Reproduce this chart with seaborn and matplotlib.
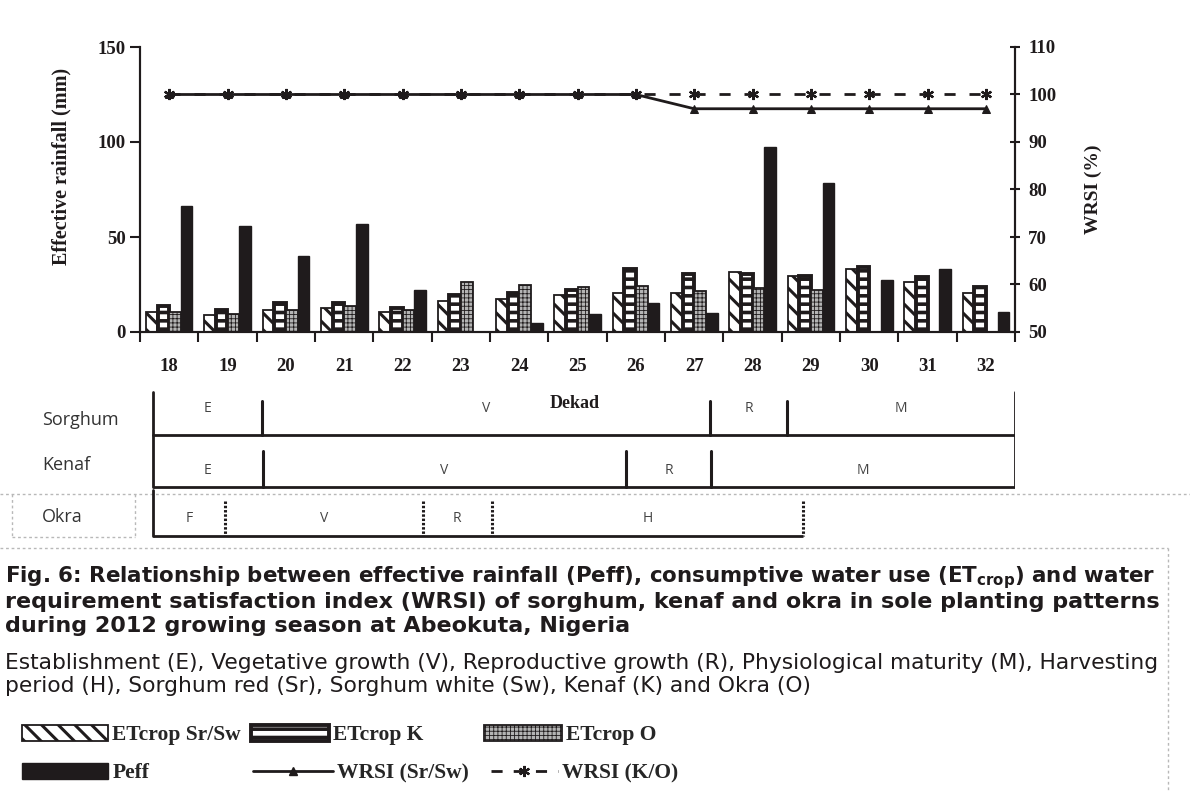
import numpy as np
import pandas as pd
import matplotlib
matplotlib.use("Agg")
import matplotlib.pyplot as plt
from matplotlib.lines import Line2D
from matplotlib.patches import Patch
import seaborn as sns

# ---- data -------------------------------------------------------------
dekads = ["18", "19", "20", "21", "22", "23", "24", "25",
          "26", "27", "28", "29", "30", "31", "32"]
et_sr_sw = [10.5, 9.1, 11.8, 12.8, 10.4, 16.2, 17.4, 19.5,
            20.4, 20.4, 31.8, 29.7, 33.3, 26.5, 20.4]
et_k = [13.9, 11.8, 15.1, 15.1, 12.8, 19.3, 20.5, 21.9,
        33.2, 30.6, 30.4, 29.5, 34.2, 28.9, 23.9]
et_o = [10.5, 9.3, 11.8, 13.9, 11.8, 26.3, 24.9, 23.9,
        24.1, 21.6, 23.2, 21.9, np.nan, np.nan, np.nan]
peff = [66.2, 55.8, 39.8, 57.0, 21.9, 0.0, 4.7, 9.5,
        15.1, 9.8, 97.4, 78.3, 27.5, 33.0, 10.5]
wrsi_sr_sw = [100, 100, 100, 100, 100, 100, 100, 100,
              100, 97, 97, 97, 97, 97, 97]
wrsi_k_o = [100, 100, 100, 100, 100, 100, 100, 100,
            100, 100, 100, 100, 100, 100, 100]

series_names = ["ETcrop Sr/Sw", "ETcrop K", "ETcrop O", "Peff"]

# crop growth stages (boundaries in dekads)
sorghum_stages = ["E", "V", "R", "M"]
sorghum_bounds = [17.72, 19.59, 27.27, 28.59, 32.5]
kenaf_stages = ["E", "V", "R", "M"]
kenaf_bounds = [17.72, 19.61, 25.83, 27.29, 32.5]
okra_stages = ["F", "V", "R", "H"]
okra_bounds = [17.72, 18.96, 22.35, 23.53, 28.87]

caption_title = [
    "Fig. 6: Relationship between effective rainfall (Peff), consumptive water use (ET$_{\\mathregular{crop}}$) and water",
    "requirement satisfaction index (WRSI) of sorghum, kenaf and okra in sole planting patterns",
    "during 2012 growing season at Abeokuta, Nigeria",
]
caption_note = [
    "Establishment (E), Vegetative growth (V), Reproductive growth (R), Physiological maturity (M), Harvesting",
    "period (H), Sorghum red (Sr), Sorghum white (Sw), Kenaf (K) and Okra (O)",
]

# ---- style ------------------------------------------------------------
INK = "#1f1b1c"
sns.set_theme(style="white")
plt.rcParams["font.family"] = ["Liberation Serif", "DejaVu Serif"]
plt.rcParams["hatch.linewidth"] = 2.2

W, H = 1190, 792
fig = plt.figure(figsize=(W / 100, H / 100), dpi=100)
fig.patch.set_facecolor("white")


def fx(px):
    return px / W


def fy(py):
    return 1 - py / H


bar_styles = {
    "ETcrop Sr/Sw": dict(facecolor="white", hatch="\\\\", hlw=2.2, lw=1.3),
    "ETcrop K": dict(facecolor="white", hatch="--", hlw=2.6, lw=2.8),
    "ETcrop O": dict(facecolor="#b4b4b4", hatch="++++", hlw=0.6, lw=1.3),
    "Peff": dict(facecolor=INK, hatch=None, hlw=1.0, lw=1.0),
}


def style_patch(p, st):
    p.set_facecolor(st["facecolor"])
    p.set_edgecolor(INK)
    p.set_linewidth(st["lw"])
    if st["hatch"]:
        p.set_hatch(st["hatch"])
        if hasattr(p, "set_hatch_linewidth"):
            p.set_hatch_linewidth(st["hlw"])


# ---- main chart -------------------------------------------------------
ax = fig.add_axes([fx(140), fy(332), fx(1015) - fx(140), fy(47) - fy(332)])

records = []
for name, vals in zip(series_names, [et_sr_sw, et_k, et_o, peff]):
    for d, v in zip(dekads, vals):
        records.append({"Dekad": d, "Series": name, "Value": v})
df = pd.DataFrame(records).dropna()

sns.barplot(data=df, x="Dekad", y="Value", hue="Series", order=dekads,
            hue_order=series_names, errorbar=None, width=0.8, dodge=True,
            saturation=1, palette=["white", "white", "#b4b4b4", INK],
            legend=False, ax=ax)
for name, cont in zip(series_names, ax.containers):
    for p in cont.patches:
        style_patch(p, bar_styles[name])

ax2 = ax.twinx()
positions = np.arange(len(dekads))
sns.lineplot(x=positions, y=wrsi_k_o, ax=ax2, color=INK, lw=2.0,
             linestyle=(0, (4, 5)), marker=(6, 2, 0), markersize=8,
             markeredgewidth=1.6, markeredgecolor=INK)
sns.lineplot(x=positions, y=wrsi_sr_sw, ax=ax2, color=INK, lw=2.0,
             marker="^", markersize=6, markeredgecolor=INK, markerfacecolor=INK)

ax.set_xlim(-0.5, len(dekads) - 0.5)
ax.set_ylim(0, 150)
ax2.set_ylim(50, 110)
ax.set_xlabel("")
ax.set_ylabel("")
ax2.set_ylabel("")

ax.set_yticks([0, 50, 100, 150])
ax2.set_yticks(np.arange(50, 111, 10))
ax.set_xticks(positions)
ax.set_xticklabels(dekads)
ax.set_xticks(np.arange(-0.5, len(dekads), 1.0), minor=True)

tick_font = dict(family="Liberation Serif", weight="bold", size=13.5)
for lab in ax.get_xticklabels() + ax.get_yticklabels() + ax2.get_yticklabels():
    lab.set_fontproperties(tick_font)
    lab.set_color(INK)

ax.tick_params(axis="x", which="major", bottom=False, length=0, pad=19)
ax.tick_params(axis="x", which="minor", bottom=True, length=7, width=1.5,
               direction="out", color=INK)
ax.tick_params(axis="y", left=True, length=7, width=1.5, direction="out",
               pad=3, color=INK)
ax2.tick_params(axis="y", right=True, length=7, width=1.5, direction="inout",
                pad=6, color=INK)

for a in (ax, ax2):
    a.spines["top"].set_visible(False)
    for s in ("left", "right", "bottom"):
        a.spines[s].set_linewidth(1.5)
        a.spines[s].set_color(INK)
    a.grid(False)

fig.text(fx(61), fy(166), "Effective rainfall (mm)", rotation=90,
         ha="center", va="center", fontsize=14.5, fontweight="bold",
         family="Liberation Serif", color=INK)
fig.text(fx(1093), fy(189), "WRSI (%)", rotation=90, ha="center",
         va="center", fontsize=14, fontweight="bold",
         family="Liberation Serif", color=INK)
fig.text(fx(575), fy(403), "Dekad", ha="center", va="center", fontsize=13,
         fontweight="bold", family="Liberation Serif", color=INK, zorder=5)

# ---- crop growth stage diagram -----------------------------------------
axp = fig.add_axes([fx(140), fy(540), fx(1015) - fx(140), fy(390) - fy(540)])
axp.set_xlim(-0.5, len(dekads) - 0.5)
axp.set_ylim(3, 0)
axp.axis("off")
first = int(dekads[0])

rows = [
    ("Sorghum", sorghum_stages, sorghum_bounds, 0.9, 0.38, 420, "-"),
    ("Kenaf", kenaf_stages, kenaf_bounds, 1.94, 1.62, 465, "-"),
    ("Okra", okra_stages, okra_bounds, 2.92, 2.58, 517, (0, (0.8, 0.6))),
]
prev_base = 0.04
for i, (crop, stages, bounds, base, ly, ty, div_style) in enumerate(rows):
    b = [v - first for v in bounds]
    axp.plot([b[0], b[-1]], [base, base], color=INK, lw=2.0,
             solid_capstyle="butt")
    axp.plot([b[0], b[0]], [prev_base if i < 2 else 2.0, base], color=INK, lw=2.0)
    if i < 2:
        axp.plot([b[-1], b[-1]], [prev_base, base], color=INK, lw=2.0)
    inner = b[1:-1] if i < 2 else b[1:]
    for xb in inner:
        axp.plot([xb, xb], [i + 0.22, base], color=INK, lw=2.2,
                 linestyle=div_style)
    for s, x0, x1 in zip(stages, b[:-1], b[1:]):
        axp.text((x0 + x1) / 2, ly, s, ha="center", va="center",
                 fontsize=10, family="Open Sans", color="#444444")
    fig.text(fx(42), fy(ty), crop, ha="left", va="center", fontsize=13,
             family="Open Sans", color="#333333")
    prev_base = base


# light dotted page rules
def rule(xs, ys):
    fig.add_artist(Line2D([fx(v) for v in xs], [fy(v) for v in ys],
                          transform=fig.transFigure, color="#b8b8b8",
                          lw=1.0, linestyle=(0, (2, 2)), zorder=0))


rule([0, 1190], [494, 494])
rule([12, 12], [494, 537])
rule([12, 135], [537, 537])
rule([135, 135], [494, 537])
rule([0, 1168], [548, 548])
rule([1168, 1168], [548, 792])

# ---- caption ----------------------------------------------------------
renderer = fig.canvas.get_renderer()


def fit_line(text, x0, x1, y, size, **kw):
    t = fig.text(fx(x0), fy(y), text, ha="left", va="center",
                 fontsize=size, color=INK, **kw)
    if x1 is not None:
        w = t.get_window_extent(renderer).width
        t.set_fontsize(size * (x1 - x0) / w)
    return t


title_kw = dict(family="DejaVu Sans", fontweight="bold")
note_kw = dict(family="DejaVu Sans")
t1 = fit_line(caption_title[0], 5, 1160, 578, 14, **title_kw)
t2 = fit_line(caption_title[1], 5, 1160, 602, 14, **title_kw)
fit_line(caption_title[2], 5, None, 626, t2.get_fontsize(), **title_kw)
t4 = fit_line(caption_note[0], 5, 1158, 663, 12, **note_kw)
fit_line(caption_note[1], 5, None, 686, t4.get_fontsize(), **note_kw)

# ---- legend -----------------------------------------------------------


def make_patch(name):
    st = bar_styles[name]
    return Patch(facecolor=st["facecolor"], edgecolor=INK, lw=st["lw"],
                 hatch=st["hatch"])


line_sr = Line2D([], [], color=INK, lw=2.0, marker="^", markersize=6)
line_ko = Line2D([], [], color=INK, lw=2.0, linestyle=(0, (4, 4)),
                 marker=(6, 2, 0), markersize=8, markeredgewidth=1.6)

legend_items = [
    ("ETcrop Sr/Sw", make_patch("ETcrop Sr/Sw"), "ETcrop Sr/Sw", 22, 735, 4.0),
    ("ETcrop K", make_patch("ETcrop K"), "ETcrop K", 251, 735, 3.6),
    ("ETcrop O", make_patch("ETcrop O"), "ETcrop O", 484, 735, 3.6),
    ("Peff", make_patch("Peff"), "Peff", 22, 773, 4.0),
    (None, line_sr, "WRSI (Sr/Sw)", 253, 773, 3.7),
    (None, line_ko, "WRSI (K/O)", 491, 773, 3.1),
]
for key, handle, label, x, y, hl in legend_items:
    leg = fig.legend([handle], [label], loc="center left",
                     bbox_to_anchor=(fx(x), fy(y)), frameon=False,
                     handlelength=hl, handleheight=0.75, handletextpad=0.2,
                     borderpad=0, borderaxespad=0,
                     prop=dict(family="Liberation Serif", weight="bold", size=15.5))
    if key is not None:
        for p in leg.get_patches():
            style_patch(p, bar_styles[key])

fig.savefig("out.png", dpi=100, facecolor="white")
